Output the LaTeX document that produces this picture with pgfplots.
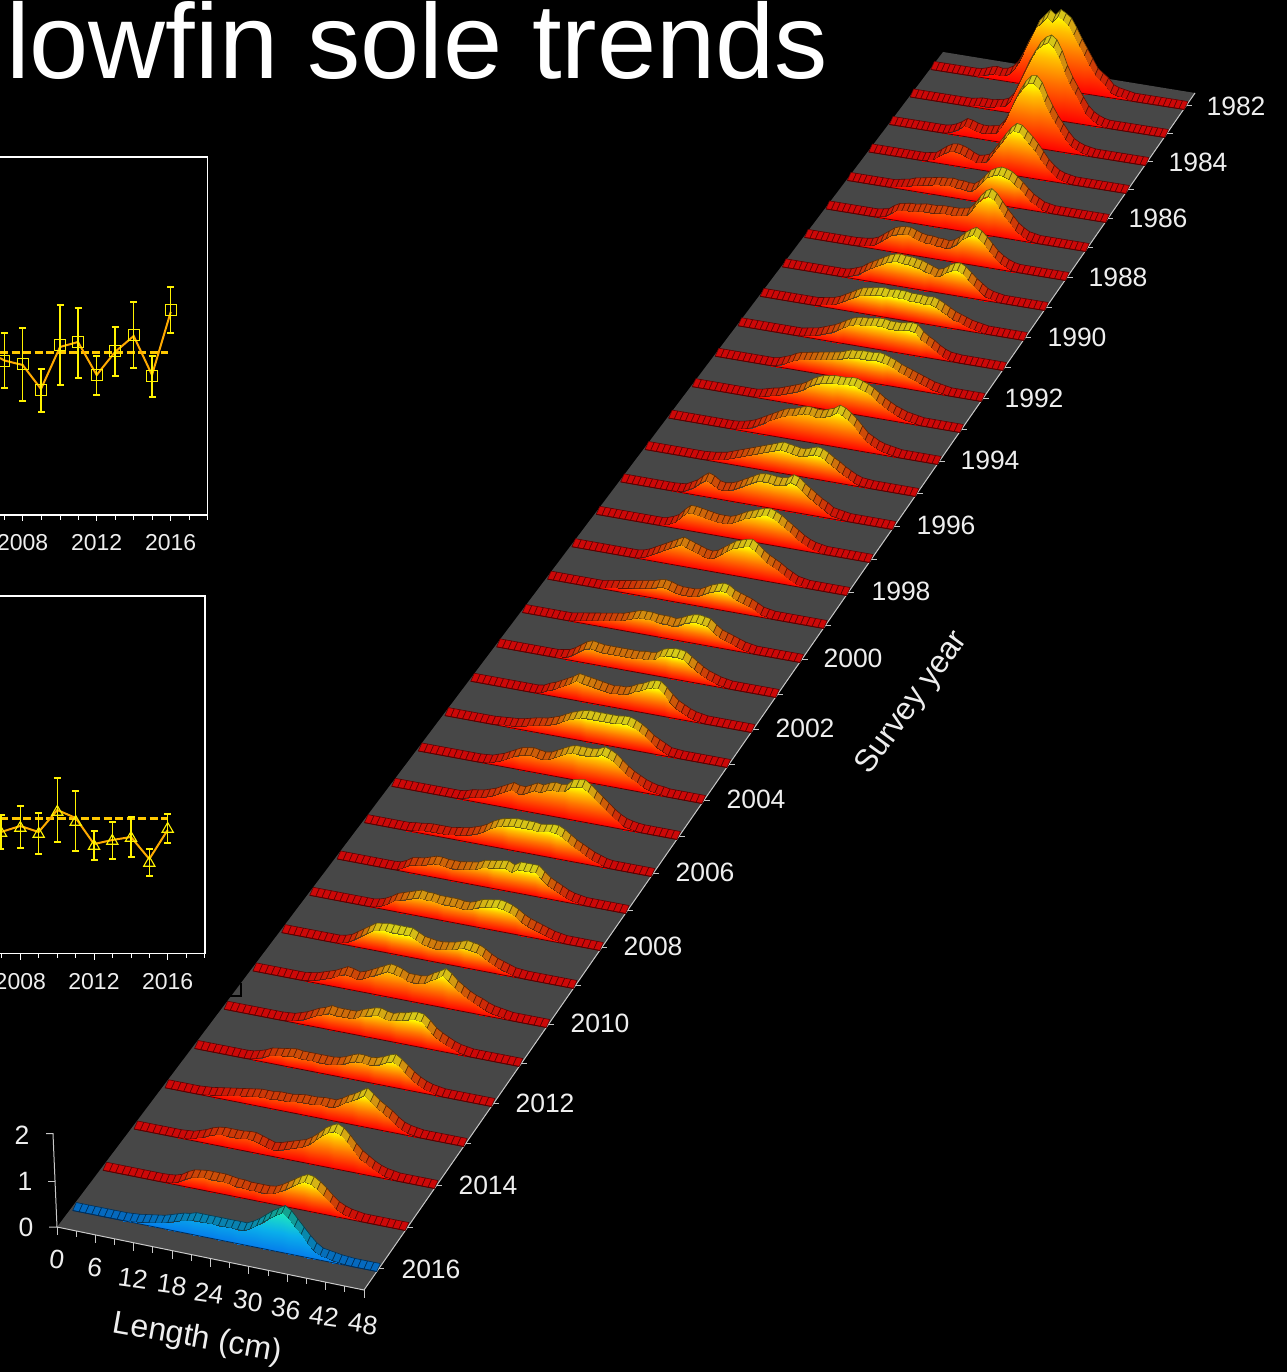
\documentclass[border=0pt]{standalone}
\usepackage{fontspec}
\setmainfont{Liberation Sans}
\usepackage{pgfplots}
\pgfplotsset{compat=1.18}
\definecolor{floorc}{RGB}{71,71,71}
\definecolor{axc}{RGB}{200,200,200}
\definecolor{txt}{RGB}{238,238,238}
\definecolor{serl}{RGB}{255,170,0}
\definecolor{meanl}{RGB}{255,200,0}
\definecolor{bandr}{RGB}{90,0,0}
\definecolor{bandb}{RGB}{0,45,90}
\pgfplotsset{
 colormap={rface}{rgb255(0cm)=(255,0,0) rgb255(5cm)=(255,115,0) rgb255(8cm)=(255,190,0) rgb255(10cm)=(255,255,0)},
 colormap={rrib}{rgb255=(205,8,8) rgb255=(205,90,8) rgb255=(215,205,25)},
 colormap={bface}{rgb255=(5,125,235) rgb255=(10,175,235) rgb255=(30,230,190)},
 colormap={brib}{rgb255=(5,105,190) rgb255=(10,140,170) rgb255=(20,165,140)},
 ribstyle/.style={patch,patch type=rectangle,shader=faceted,point meta=explicit,
   point meta min=0,point meta max=1,faceted color=mapped color!45!black,line width=0.6pt},
 facestyle/.style={patch,patch type=rectangle,shader=interp,point meta=explicit,
   point meta min=0,point meta max=1},
}
\newcount\ridgeI
\def\ridgeAddFace#1{\xdef\faceC{\faceC (\pBX,\pBY) [0] (\rBX,\rBY) [0] (\rBX,\rTY) [\rM] (\pBX,\pTY) [\pM] }}
% #1 y of the right end of the year's row, #2 largest height, #3 number of leading empty bins, #4 heights (px)
\newcommand\ridge[4]{%
  \pgfmathsetmacro\yR{#1}%
  \pgfmathsetmacro\yL{#1-(40+(#1-106)*0.01807)}%
  \pgfmathsetmacro\xL{943-(\yL-52)*0.752}%
  \pgfmathsetmacro\xR{1195-(#1-93)*0.695}%
  \pgfmathsetmacro\hMax{#2}%
  \gdef\ribC{}\gdef\faceC{}\global\ridgeI=0
  \loop\ifnum\ridgeI<#3 \ridgeStepZ\repeat
  \foreach \hh in {#4} {\ridgeStepV{\hh}}%
  \loop\ifnum\ridgeI<49 \ridgeStepZ\repeat
  \pgfmathsetmacro\xT{\xR+6}%
  \pgfmathsetmacro\fxL{\xL-1.7}\pgfmathsetmacro\fyL{\yL+3.5}%
  \pgfmathsetmacro\fxR{\xR-1.7}\pgfmathsetmacro\fyR{\yR+3.5}%
  \edef\doit{\noexpand\draw[axc,line width=1pt] (axis cs:\xR,#1) -- (axis cs:\xT,#1);
    \noexpand\addplot[ribstyle,colormap name=\cRib] coordinates {\ribC};
    \noexpand\addplot[facestyle,colormap name=\cFace] coordinates {\faceC};
    \noexpand\addplot[\cLine,line width=0.8pt] coordinates {(\fxL,\fyL) (\fxR,\fyR)};}%
  \doit
}
\def\ridgeStepZ{\ridgeStepR{0}}
\def\ridgeStepV#1{\edef\tmpv{#1}\expandafter\ridgeStepR\expandafter{\tmpv}}
\def\ridgeStepR#1{%
  \pgfmathsetmacro\rT{\the\ridgeI/48}%
  \pgfmathsetmacro\rBX{\xL+\rT*(\xR-\xL)-1.7}%
  \pgfmathsetmacro\rBY{\yL+\rT*(\yR-\yL)+3.5}%
  \pgfmathsetmacro\rTY{\rBY-#1}%
  \pgfmathsetmacro\rM{#1/\hMax}%
  \pgfmathsetmacro\rBXB{\rBX+3.6}%
  \pgfmathsetmacro\rTYB{\rTY-8}%
  \ifnum\ridgeI>0
    \xdef\ribC{\ribC (\pBX,\pTY) [\pM] (\rBX,\rTY) [\rM] (\rBXB,\rTYB) [\rM] (\pBXB,\pTYB) [\pM] }%
    \ifdim#1pt>0pt \ridgeAddFace{#1}\else\ifdim\pH pt>0pt \ridgeAddFace{#1}\fi\fi
  \fi
  \xdef\pBX{\rBX}\xdef\pBY{\rBY}\xdef\pTY{\rTY}\xdef\pM{\rM}\xdef\pH{#1}%
  \xdef\pBXB{\rBXB}\xdef\pTYB{\rTYB}%
  \global\advance\ridgeI by 1\relax
}
\def\cRib{rrib}\def\cFace{rface}\def\cLine{bandr}
\newcommand\lab[3]{\node[text=txt,font=\fontsize{26.5}{30}\selectfont,inner sep=0pt] at (axis cs:#1,#2) {#3};}
\newcommand\smalllab[3]{\node[text=txt,font=\fontsize{23}{26}\selectfont,inner sep=0pt] at (axis cs:#1,#2) {#3};}
\newcommand\vt[4]{\pgfmathsetmacro\yy{#2+#3}\edef\doit{\noexpand\draw[#4] (axis cs:#1,#2) -- (axis cs:#1,\yy);}\doit}
\newcommand\rotlab[3]{\edef\doit{\noexpand\node[text=txt,rotate=-8,font=\noexpand\fontsize{26.5}{30}\noexpand\selectfont,inner sep=0pt] at (axis cs:#1,#2) {#3};}\doit}
\begin{document}
\begin{tikzpicture}
\useasboundingbox (0,0) rectangle (1287pt,1372pt);
\clip (0,0) rectangle (1287pt,1372pt);
\fill[black] (0,0) rectangle (1287pt,1372pt);
\begin{axis}[at={(0pt,0pt)},anchor=south west,scale only axis,width=1287pt,height=1372pt,
  xmin=0,xmax=1287,ymin=0,ymax=1372,y dir=reverse,hide axis,clip=false]
% title
\node[anchor=base west,text=white,font=\fontsize{106.4}{110}\selectfont,inner sep=0pt] at (axis cs:6,79) {lowfin sole trends};
% panel 1
\addplot[white,line width=1.4pt] coordinates {(0,157) (207.5,157) (207.5,515) (0,515)};
\addplot[meanl,line width=3pt,dash pattern=on 8pt off 3.5pt] coordinates {(0,352.3) (168,352.3)};
\addplot[serl,line width=2pt] coordinates {(0,358) (4.4,360.5) (22.7,365) (41,389) (60,347) (78,342) (96.7,375) (115,352) (133.7,336) (152,375) (170.7,312)};
\addplot[only marks,mark=square,mark size=5.5pt,mark options={draw=yellow,line width=1.1pt,fill=none},
  error bars/.cd,y dir=both,y explicit,error bar style={yellow,line width=1.3pt},
  error mark options={rotate=90,yellow,mark size=3.5pt,line width=1.3pt}]
  table[x=x,y=m,y error plus expr=\thisrow{b}-\thisrow{m},y error minus expr=\thisrow{m}-\thisrow{t}] {
x m t b
4.4 361 333 388
22.7 364 328 401
41 390 369 412
60 345 305 385
78 342 308 378
96.7 375 356 395
115 351 327 376
133.7 335 302 368
152 376 356 397
170.7 310 287 333
};
\foreach \x in {4.4,41,60,78,115,133.7,152,189,207}{\vt{\x}{515}{4.5}{white,line width=0.8pt}}
\foreach \x in {22.7,96.7,170.7}{\vt{\x}{515}{6}{white,line width=0.8pt}}
\smalllab{22.7}{542.5}{2008}\smalllab{96.7}{542.5}{2012}\smalllab{170.7}{542.5}{2016}
% panel 2
\addplot[white,line width=1.4pt] coordinates {(0,596) (205,596) (205,953.7) (0,953.7)};
\addplot[meanl,line width=3pt,dash pattern=on 8pt off 3.5pt] coordinates {(0,818) (167,818)};
\addplot[serl,line width=2pt] coordinates {(1,832) (20.3,826) (38.7,832) (57.3,810) (75.7,818) (94,844) (112.3,840) (131,837) (149.3,859) (167.7,830)};
\addplot[only marks,mark=triangle,mark size=6.5pt,mark options={draw=yellow,line width=1.1pt,fill=none},
  error bars/.cd,y dir=both,y explicit,error bar style={yellow,line width=1.3pt},
  error mark options={rotate=90,yellow,mark size=3.5pt,line width=1.3pt}]
  table[x=x,y=m,y error plus expr=\thisrow{b}-\thisrow{m},y error minus expr=\thisrow{m}-\thisrow{t}] {
x m t b
1 833 815 849
20.3 828 806 848
38.7 834 813 854
57.3 812 778 842
75.7 822 791 851
94 846 831 860
112.3 841 822 859
131 838 817 857
149.3 863 849 876
167.7 829 814 843
};
\foreach \x in {1,38.7,57.3,75.7,112.3,131,149.3,186.3,204.7}{\vt{\x}{953.7}{4.5}{white,line width=0.8pt}}
\foreach \x in {20.3,94,167.7}{\vt{\x}{953.7}{6}{white,line width=0.8pt}}
\smalllab{20.3}{981.5}{2008}\smalllab{94}{981.5}{2012}\smalllab{167.7}{981.5}{2016}
% floor
\addplot[fill=floorc,draw=none] coordinates {(57,1227) (364,1290) (1195,93) (943,52)} -- cycle;
\addplot[axc,line width=1pt] coordinates {(364,1290) (1195,93)};
\addplot[axc,line width=1pt] coordinates {(57,1227) (364,1290)};
\addplot[black,line width=2pt] coordinates {(229,996) (241,996) (241,983)};
% ridges, back to front
\ridge{106}{73}{9}{0.5,2,4,5,4,5,8,14,24,36,46,58,64,70,66,72,69,65,56,46,37,28,19,15,11,5,3,2,1}
\ridge{134}{76}{12}{1,2,2,2,3,4,6,12,24,36,48,58,67,73,76,72,62,48,37,28,19,11,6,3,1}
\ridge{162}{64}{11}{1,3,6,10,9,7,6,6,7,8,14,24,37,48,57,63,64,58,46,36,27,20,13,7,4,2,1}
\ridge{190}{44}{11}{1,2,6,10,13,14,13,11,8,6,7,9,16,24,32,39,44,43,38,33,27,20,13,8,4,2,1}
\ridge{219}{30}{9}{1,2,3,5,6,7,8,9,10,10,11,10,10,9,9,13,19,25,28,30,29,27,23,18,13,8,5,2,1}
\ridge{248}{39}{10}{1,2,6,9,10,11,11,12,13,13,13,14,14,14,14,15,16,22,30,36,39,35,28,21,15,9,5,2,1}
\ridge{277}{30}{10}{0.5,1,2,4,8,12,16,18,19,19,17,15,14,14,13,13,12,14,18,23,27,30,27,22,16,10,6,3,1}
\ridge{307}{25}{12}{1,3,5,9,12,15,18,21,23,24,23,23,22,21,19,17,15,17,21,24,25,22,17,12,8,4,2,1}
\ridge{337}{21}{11}{1,2,3,5,8,11,14,17,18,19,20,21,20,21,21,21,20,20,20,19,20,18,15,12,9,7,5,3,2,1}
\ridge{367}{24}{12}{1,2,3,5,7,9,12,15,18,20,21,21,22,23,23,22,22,22,23,24,23,17,13,10,6,3,1,0.5}
\ridge{398}{23}{11}{1,3,5,8,10,11,12,13,14,15,16,17,19,21,21,22,22,22,23,22,20,18,15,13,11,9,7,5,3,2,1}
\ridge{429}{28}{12}{1,2.5,4,5,7,9,11,13,16,20,23,25,26,27,27,27,28,28,26,24,21,17,13,10,7,5,3,2,1}
\ridge{461}{34}{12}{0.5,1.5,3,5,8,11,14,17,20,22,23,25,27,27,26,26,28,30,34,32,28,23,17,11,8,5,3,2,1}
\ridge{493}{24}{11}{0.5,1,2,3,5,7,9,11,13,15,17,19,21,23,22,21,20,20,22,24,23,20,16,13,9,6,3,1,0.5}
\ridge{526}{29}{10}{0.5,1,4,7,12,16,14,10,9,10,12,15,18,21,24,25,25,24,24,25,29,27,22,18,14,10,7,3,2,1}
\ridge{559}{28}{12}{1,3,6,12,17,17,16,15,14,13,13,13,15,18,21,23,25,27,28,26,23,19,15,11,7,4,2,1}
\ridge{592}{31}{12}{1,3,6,9,12,15,18,21,19,17,15,13,12,14,18,22,26,28,30,31,27,22,18,15,12,8,5,2,1}
\ridge{625}{19}{10}{1,2,3,4,5,6,7,8,9,11,12,11,9,8,8,8,9,12,15,17,19,18,14,12,10,8,5,2,1}
\ridge{659}{21}{9}{1,2,3,4,5,6,7,8,9,11,13,15,15,15,14,14,14,13,15,18,20,21,20,19,14,10,8,6,4,2,1}
\ridge{694}{22}{11}{1,2,5,9,13,15,14,13,13,13,13,13,13,13,14,14,15,19,21,22,22,21,17,13,9,6,4,2,1}
\ridge{729}{26}{12}{1,4,6,9,12,15,19,18,17,16,15,14,13,14,14,16,19,21,24,26,26,21,15,10,7,4,2,1}
\ridge{764}{24}{9}{0.5,1,1.5,2,3,4.5,6,7,8,10,12,15,18,20,22,23,23,23,23,23,23,24,24,22,19,15,10,7,4,1,0.5}
\ridge{800}{30}{11}{0.5,1,3,5,8,11,14,15,16,15,14,15,18,21,24,26,26,26,26,27,30,28,25,20,15,11,8,5,3,1.5,1}
\ridge{836}{34}{12}{1,3,4,5,7,9,12,15,18,16,16,19,22,21,24,26,25,26,32,33,34,30,25,20,15,10,6,3,1.5,0.5}
\ridge{873}{25}{8}{1,1.5,2.5,3,3,3,3,4,5,6,8,10,13,17,20,22,23,24,24,24,24,23,24,25,25,22,18,14,11,8,5,3,1}
\ridge{910}{23}{10}{0.5,3,7,8,9,11,13,13,12,12,12,13,14,15,18,19,20,21,22,19,23,23,23,23,18,13,10,7,4,2,1}
\ridge{947}{23}{11}{1,3,6,10,12,14,16,18,17,17,16,16,16,16,15,15,17,20,21,22,23,22,20,17,13,10,8,6,4,2,1}
\ridge{985}{21}{10}{1,3,7,11,15,19,20,21,21,21,21,21,18,15,14,13,13,14,15,17,19,18,17,14,10,7,5,3,1,0.5}
\ridge{1024}{31}{9}{1,2,4,6,8,11,14,13,11,13,16,19,22,25,24,22,19,19,19,20,24,27,31,27,21,17,13,10,8,5,3,2,1}
\ridge{1063}{26}{10}{0.5,1,3,5,8,11,13,16,15,15,15,15,18,20,22,23,21,20,22,23,25,26,25,20,14,10,7,4,2,1}
\ridge{1103}{25}{9}{0.5,2,4,7,8,9,10,11,10,10,10,10,10,10,11,13,16,18,18,17,18,20,23,25,21,16,11,7,4,2,1}
\ridge{1143}{31}{6}{0.5,1,2,3,4,5,6,7,8,9,9,9,10,10,10,11,12,12,12,13,13,13,16,20,23,27,31,26,21,17,13,8,4,2,1}
\ridge{1185}{37}{8}{0.5,1,3,5,8,10,11,11,11,11,12,12,10,8,6,7,9,11,13,15,19,24,30,34,37,34,28,21,15,11,7,4,2,1}
\ridge{1227}{28}{10}{0.3,1,3,7,10,11,12,12,12,12,11,10,10,9,9,9,9,10,13,17,21,25,28,27,23,18,12,7,4,2,1}
\def\cRib{brib}\def\cFace{bface}\def\cLine{bandb}
\ridge{1268}{39}{9}{0.5,1,2,3,4,5,7,9,11,12,14,14,14,14,14,14,14,14,14,17,21,26,31,35,39,35,28,21,14,8,4,3,2,1,0.5}
% front axis ticks
\foreach \x/\y in {57/1227,95.4/1234.9,133.8/1242.8,172.1/1250.6,210.5/1258.5,248.9/1266.4,287.3/1274.3,325.6/1282.1,364/1290}{\vt{\x}{\y}{8}{axc,line width=0.9pt}}
\foreach \x/\y in {76.2/1230.9,114.6/1238.8,152.9/1246.7,191.3/1254.6,229.7/1262.4,268.1/1270.3,306.4/1278.2,344.8/1286.1}{\vt{\x}{\y}{6}{axc,line width=0.9pt}}
% height axis
\addplot[axc,line width=1pt] coordinates {(46,1133.5) (53,1133.5) (57,1227) (49,1227)};
\addplot[axc,line width=1pt] coordinates {(48,1181) (55,1181)};
\lab{22}{1135}{2}\lab{25}{1181}{1}\lab{26}{1227}{0}
% length labels
\rotlab{57}{1259}{0}\rotlab{95}{1267}{6}\rotlab{133}{1278}{12}\rotlab{172}{1285}{18}\rotlab{209}{1293}{24}
\rotlab{248}{1301}{30}\rotlab{286}{1309}{36}\rotlab{324}{1316}{42}\rotlab{363}{1324}{48}
\node[text=txt,rotate=-10,font=\fontsize{32}{36}\selectfont,inner sep=0pt] at (axis cs:197.5,1339) {Length (cm)};
% year labels
\lab{1236}{106}{1982}\lab{1198}{162}{1984}\lab{1158}{218}{1986}\lab{1118}{277}{1988}
\lab{1077}{337}{1990}\lab{1034}{398}{1992}\lab{990}{460}{1994}\lab{946}{525}{1996}
\lab{901}{591}{1998}\lab{853}{658}{2000}\lab{805}{728}{2002}\lab{756}{799}{2004}
\lab{705}{872}{2006}\lab{653}{946}{2008}\lab{600}{1023}{2010}\lab{545}{1103}{2012}
\lab{488}{1185}{2014}\lab{431}{1269}{2016}
\node[text=txt,rotate=54,font=\fontsize{31.5}{36}\selectfont,inner sep=0pt] at (axis cs:912.5,703) {Survey year};
\end{axis}
\end{tikzpicture}
\end{document}
